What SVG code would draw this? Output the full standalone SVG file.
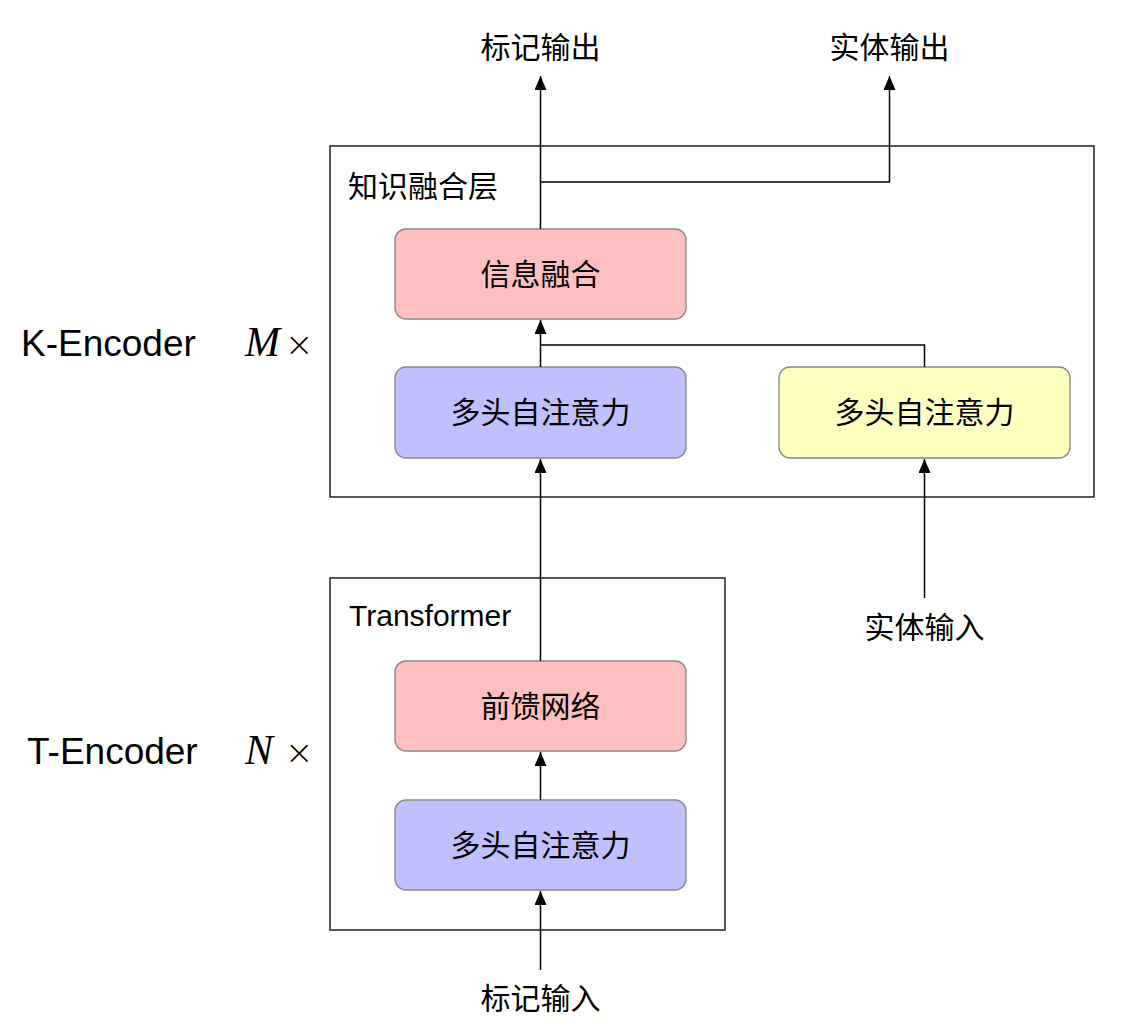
<svg xmlns="http://www.w3.org/2000/svg" width="1121" height="1034" viewBox="0 0 1121 1034">
<defs>
<marker id="arr" markerWidth="14" markerHeight="12" refX="14" refY="6" orient="auto" markerUnits="userSpaceOnUse" viewBox="0 0 14 12">
<path d="M0,0 L14,6 L0,12 Z" fill="#000"/>
</marker>
<style>
.cjk{font-family:"Noto Sans CJK SC","Noto Sans",sans-serif;font-size:30px;fill:#000}
.lat{font-family:"Liberation Sans",Arial,sans-serif;fill:#000}
.frame{fill:#fff;stroke:#000;stroke-width:1.3}
.node{stroke:#888;stroke-width:1.3}
.pink{fill:#FFBFBF}
.blue{fill:#C0C0FF}
.yellow{fill:#FFFFC0}
.con{fill:none;stroke:#000;stroke-width:1.5}
.math{font-family:"Liberation Serif","DejaVu Serif",serif;font-size:42px;fill:#000}
.times{font-family:"DejaVu Sans","Liberation Sans",sans-serif;font-size:34px;font-weight:200;fill:#000}
</style>
</defs>
<rect width="1121" height="1034" fill="#fff"/>
<g id="k-layer">
<rect class="frame" x="330" y="146" width="764" height="351"/>
<text class="cjk" x="348" y="197" font-size="30.5">知识融合层</text>
</g>
<g id="t-layer">
<rect class="frame" x="330" y="578" width="395" height="352"/>
<text class="lat" x="349" y="626" font-size="30">Transformer</text>
</g>
<g id="fusion">
<rect class="node pink" x="395" y="229" width="291" height="90" rx="11"/>
<text class="cjk" x="540.5" y="285" text-anchor="middle">信息融合</text>
</g>
<g id="k-attn-token">
<rect class="node blue" x="395" y="367" width="291" height="91" rx="11"/>
<text class="cjk" x="540.5" y="423" text-anchor="middle">多头自注意力</text>
</g>
<g id="k-attn-entity">
<rect class="node yellow" x="779" y="367" width="291" height="91" rx="11"/>
<text class="cjk" x="924.5" y="423" text-anchor="middle">多头自注意力</text>
</g>
<g id="ffn">
<rect class="node pink" x="395" y="661" width="291" height="90" rx="11"/>
<text class="cjk" x="540.5" y="717" text-anchor="middle">前馈网络</text>
</g>
<g id="t-attn">
<rect class="node blue" x="395" y="800" width="291" height="90" rx="11"/>
<text class="cjk" x="540.5" y="856" text-anchor="middle">多头自注意力</text>
</g>
<g id="labels">
<text class="cjk" x="540.5" y="58" text-anchor="middle">标记输出</text>
<text class="cjk" x="889.5" y="58" text-anchor="middle">实体输出</text>
<text class="cjk" x="924.5" y="638" text-anchor="middle">实体输入</text>
<text class="cjk" x="540.5" y="1009" text-anchor="middle">标记输入</text>
<text class="lat" x="21" y="356" font-size="37">K-Encoder</text>
<text class="math" x="245" y="356" font-style="italic">M</text>
<text class="times" x="285" y="356">×</text>
<text class="lat" x="27" y="764" font-size="37">T-Encoder</text>
<text class="math" x="245" y="764" font-style="italic">N</text>
<text class="times" x="285" y="764">×</text>
</g>
<g id="connectors">
<path class="con" d="M540.5,970 L540.5,891" marker-end="url(#arr)"/>
<path class="con" d="M540.5,800 L540.5,752" marker-end="url(#arr)"/>
<path class="con" d="M540.5,661 L540.5,459" marker-end="url(#arr)"/>
<path class="con" d="M540.5,367 L540.5,320" marker-end="url(#arr)"/>
<path class="con" d="M924.5,367 L924.5,345 L540.5,345"/>
<path class="con" d="M540.5,229 L540.5,76" marker-end="url(#arr)"/>
<path class="con" d="M540.5,182 L889.5,182 L889.5,76" marker-end="url(#arr)"/>
<path class="con" d="M924.5,598 L924.5,459" marker-end="url(#arr)"/>
</g>
</svg>
